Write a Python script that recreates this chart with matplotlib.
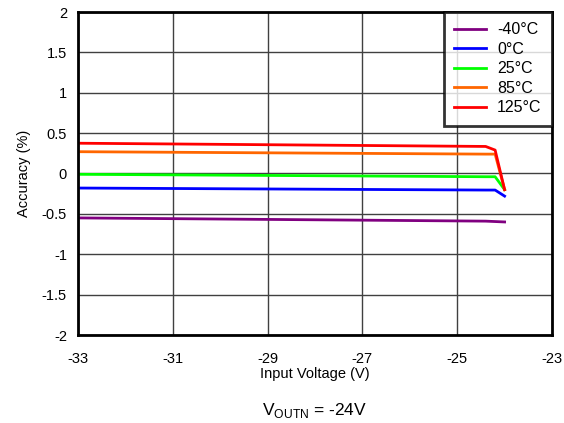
import matplotlib
matplotlib.use('Agg')
import matplotlib.pyplot as plt

plt.rcParams['font.family'] = ['Liberation Sans', 'DejaVu Sans']
plt.rcParams['axes.unicode_minus'] = False

# input voltage (V) and accuracy (%) per temperature
v_in = [-33, -24.4, -24.2, -24.0]
acc_m40 = [-0.55, -0.59, -0.595, -0.60]
acc_0 = [-0.18, -0.205, -0.205, -0.28]
acc_25 = [-0.01, -0.04, -0.04, -0.20]
acc_85 = [0.27, 0.24, 0.24, -0.20]
acc_125 = [0.375, 0.335, 0.29, -0.20]

labels = ['-40°C', '0°C', '25°C', '85°C', '125°C']
colors = ['#800080', '#0000ff', '#00ff00', '#ff6600', '#ff0000']
series = [acc_m40, acc_0, acc_25, acc_85, acc_125]

fig = plt.figure(figsize=(5.64, 4.23), dpi=100)
ax = fig.add_axes([78/564, 1 - 335/423, (552-78)/564, (335-12)/423])

for y, c, lab in zip(series, colors, labels):
    ax.plot(v_in, y, color=c, lw=2, label=lab)

ax.set_xlim(-33, -23)
ax.set_ylim(-2, 2)
ax.set_xticks([-33, -31, -29, -27, -25, -23])
ax.set_yticks([-2, -1.5, -1, -0.5, 0, 0.5, 1, 1.5, 2])
ax.set_yticklabels(['-2', '-1.5', '-1', '-0.5', '0', '0.5', '1', '1.5', '2'])
ax.grid(True, color='#404040', lw=1)
ax.tick_params(axis='both', length=0, labelsize=10.5)
ax.tick_params(axis='x', pad=12)
ax.tick_params(axis='y', pad=8)
for s in ax.spines.values():
    s.set_linewidth(2)
    s.set_color('black')

ax.set_xlabel('Input Voltage (V)', fontsize=10.5, labelpad=1)
ax.set_ylabel('Accuracy (%)', fontsize=10.5, labelpad=8)

leg = ax.legend(loc='upper right', fontsize=11.5, frameon=True, fancybox=False,
                borderaxespad=0, handlelength=2.0, handletextpad=0.7,
                labelspacing=0.28, borderpad=0.65)
leg.get_frame().set_edgecolor('black')
leg.get_frame().set_linewidth(2)

fig.text(315/564, 1 - 410/423, r'V$_{\mathregular{OUTN}}$ = -24V', ha='center',
         va='center', fontsize=12.5)

fig.savefig('out.png', dpi=100)
